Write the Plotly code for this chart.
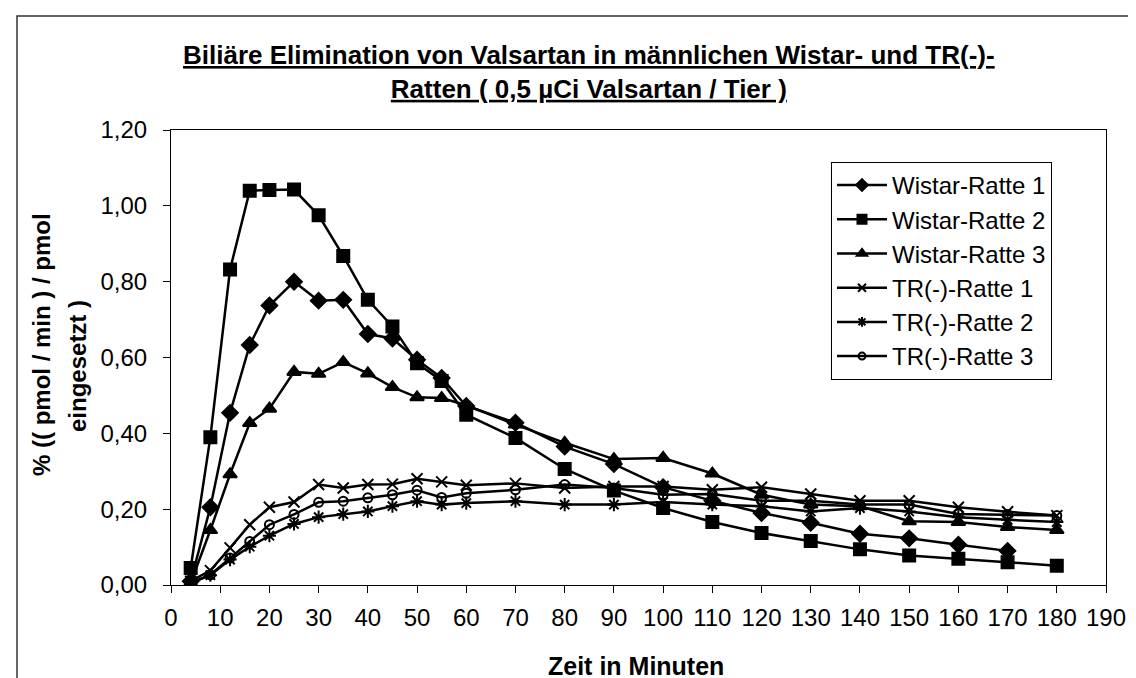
import plotly.graph_objects as go

# Zeitpunkte (min)
zeit = [4, 8, 12, 16, 20, 25, 30, 35, 40, 45, 50, 55, 60,
        70, 80, 90, 100, 110, 120, 130, 140, 150, 160, 170, 180]

wistar_1 = [0.01, 0.205, 0.454, 0.633, 0.737, 0.80, 0.75, 0.752, 0.662, 0.65, 0.594, 0.546, 0.472,
            0.428, 0.365, 0.319, 0.258, 0.222, 0.19, 0.164, 0.135, 0.123, 0.106, 0.09, None]
wistar_2 = [0.045, 0.39, 0.832, 1.04, 1.042, 1.043, 0.975, 0.868, 0.752, 0.682, 0.585, 0.538, 0.449,
            0.388, 0.306, 0.249, 0.203, 0.166, 0.137, 0.116, 0.094, 0.078, 0.069, 0.060, 0.051]
wistar_3 = [0.005, 0.145, 0.292, 0.427, 0.465, 0.562, 0.557, 0.588, 0.558, 0.522, 0.495, 0.493, 0.474,
            0.423, 0.375, 0.332, 0.335, 0.294, 0.238, 0.212, 0.208, 0.168, 0.166, 0.153, 0.145]
tr_1 = [0.01, 0.038, 0.098, 0.159, 0.205, 0.219, 0.265, 0.256, 0.265, 0.266, 0.28, 0.272, 0.263,
        0.268, 0.256, 0.26, 0.26, 0.251, 0.258, 0.24, 0.222, 0.222, 0.205, 0.193, 0.183]
tr_2 = [0.005, 0.026, 0.067, 0.101, 0.13, 0.161, 0.179, 0.187, 0.194, 0.208, 0.221, 0.212, 0.216,
        0.221, 0.212, 0.212, 0.219, 0.212, 0.208, 0.194, 0.203, 0.194, 0.179, 0.172, 0.166]
tr_3 = [0.005, 0.027, 0.071, 0.115, 0.159, 0.186, 0.218, 0.221, 0.23, 0.238, 0.25, 0.231, 0.242,
        0.251, 0.265, 0.256, 0.238, 0.24, 0.222, 0.222, 0.212, 0.212, 0.187, 0.186, 0.183]

namen = ["Wistar-Ratte 1", "Wistar-Ratte 2", "Wistar-Ratte 3",
         "TR(-)-Ratte 1", "TR(-)-Ratte 2", "TR(-)-Ratte 3"]
serien = [wistar_1, wistar_2, wistar_3, tr_1, tr_2, tr_3]
symbole = ["diamond", "square", "triangle-up", "x-thin-open", "asterisk-open", "circle-open"]
groessen = [12, 12, 12, 11, 11, 9]
legend_groessen = [9, 9, 9, 8, 8, 7]

x_ticks = list(range(0, 200, 10))
y_ticks = [0, 0.2, 0.4, 0.6, 0.8, 1.0, 1.2]

FONT = "Arial, Liberation Sans, sans-serif"

fig = go.Figure()
for name, ys, sym, sz in zip(namen, serien, symbole, groessen):
    fig.add_trace(go.Scatter(
        x=zeit, y=ys, name=name, mode="lines+markers", showlegend=False,
        line=dict(color="black", width=2.5),
        marker=dict(symbol=sym, size=sz, color="black",
                    line=dict(color="black", width=2)),
        connectgaps=False,
    ))
# legend entries (small symbols as in the original legend)
for name, sym, sz in zip(namen, symbole, legend_groessen):
    fig.add_trace(go.Scatter(
        x=[None], y=[None], name=name, mode="lines+markers", showlegend=True,
        line=dict(color="black", width=2.5),
        marker=dict(symbol=sym, size=sz, color="black",
                    line=dict(color="black", width=2)),
    ))

L, R, T, B = 163, 38, 122, 101
W, H = 1136, 678
pw, ph = W - L - R, H - T - B

def px_x(p):
    return (p - L) / pw

def px_y(p):
    return (H - B - p) / ph

fig.update_layout(
    width=W, height=H,
    margin=dict(l=L, r=R, t=T, b=B),
    paper_bgcolor="white", plot_bgcolor="white",
    separators=",.",
    font=dict(family=FONT, size=24, color="black"),
    showlegend=True,
    legend=dict(x=px_x(823), y=px_y(154), xanchor="left", yanchor="top",
                bordercolor="black", borderwidth=1, bgcolor="white",
                itemwidth=50,
                font=dict(family=FONT, size=24, color="black")),
    xaxis=dict(range=[0, 190], tickvals=x_ticks, ticks="outside", ticklen=7,
               tickcolor="black", showline=True, linecolor="black", linewidth=1,
               mirror=True, showgrid=False, zeroline=False,
               tickfont=dict(family=FONT, size=24, color="black"),
               ticklabelstandoff=4),
    yaxis=dict(range=[0, 1.2], tickvals=y_ticks, tickformat=".2f", ticks="outside",
               ticklen=7, tickcolor="black", showline=True, linecolor="black",
               linewidth=1, mirror=True, showgrid=False, zeroline=False,
               tickfont=dict(family=FONT, size=24, color="black"),
               ticklabelstandoff=11),
    shapes=[dict(type="rect", xref="paper", yref="paper",
                 x0=px_x(9), x1=px_x(1128), y0=px_y(720), y1=px_y(8),
                 line=dict(color="#333333", width=1.5), fillcolor="rgba(0,0,0,0)",
                 layer="below")],
    annotations=[
        dict(text="<b><u>Biliäre Elimination von Valsartan in männlichen Wistar- und TR(-)-</u></b><br>"
                  "<b><u>Ratten ( 0,5 µCi Valsartan / Tier )</u></b>",
             xref="paper", yref="paper", x=px_x(581), y=px_y(64),
             xanchor="center", yanchor="middle", align="center", showarrow=False,
             font=dict(family=FONT, size=26, color="black")),
        dict(text="<b>% (( pmol / min ) / pmol</b>",
             xref="paper", yref="paper", x=px_x(33), y=px_y(337),
             xanchor="center", yanchor="middle", textangle=-90,
             showarrow=False, font=dict(family=FONT, size=24, color="black")),
        dict(text="<b>eingesetzt )</b>",
             xref="paper", yref="paper", x=px_x(69), y=px_y(358),
             xanchor="center", yanchor="middle", textangle=-90,
             showarrow=False, font=dict(family=FONT, size=24, color="black")),
        dict(text="<b>Zeit in Minuten</b>",
             xref="paper", yref="paper", x=px_x(628), y=px_y(658),
             xanchor="center", yanchor="middle", showarrow=False,
             font=dict(family=FONT, size=25, color="black")),
    ],
)

fig.write_html("out.html")
